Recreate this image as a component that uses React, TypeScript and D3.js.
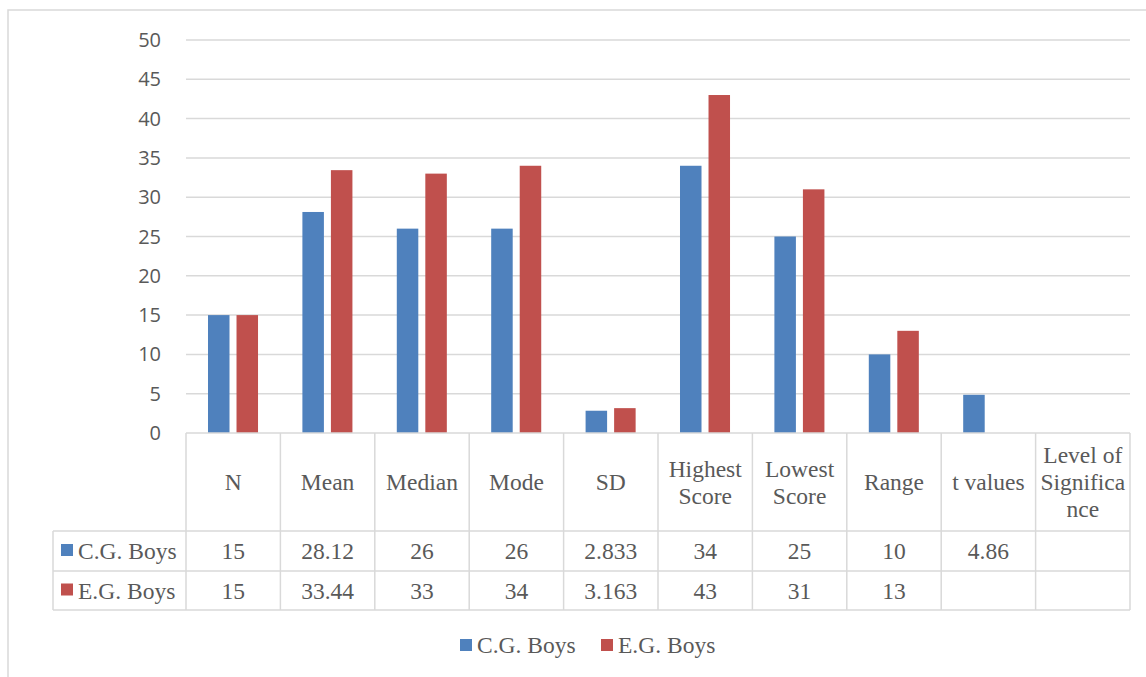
import React from "react";
import * as d3 from "d3";

// Statistics compared between control and experimental groups
const categories = [
  "N",
  "Mean",
  "Median",
  "Mode",
  "SD",
  "Highest Score",
  "Lowest Score",
  "Range",
  "t values",
  "Level of Significance",
];
// Header cell text as it wraps inside each column
const headerLines = [
  ["N"],
  ["Mean"],
  ["Median"],
  ["Mode"],
  ["SD"],
  ["Highest", "Score"],
  ["Lowest", "Score"],
  ["Range"],
  ["t values"],
  ["Level of", "Significa", "nce"],
];
const seriesNames = ["C.G. Boys", "E.G. Boys"];
const cgBoys: (number | null)[] = [15, 28.12, 26, 26, 2.833, 34, 25, 10, 4.86, null];
const egBoys: (number | null)[] = [15, 33.44, 33, 34, 3.163, 43, 31, 13, null, null];
const yTicks = [0, 5, 10, 15, 20, 25, 30, 35, 40, 45, 50];
const colors = ["#4f81bd", "#c0504d"];

const W = 1146;
const H = 677;
const plotLeft = 186;
const plotRight = 1130;
const plotTop = 40;
const plotBottom = 433;
const headerBottom = 531;
const row1Bottom = 571;
const row2Bottom = 610;
const tableLeft = 53;

const grid = "#d9d9d9";
const textColor = "#595959";
const serif = "'Liberation Serif', 'Times New Roman', serif";
const sans = "'Open Sans', 'DejaVu Sans', sans-serif";
const tableFont = 23.5;

export default function App() {
  const series = [cgBoys, egBoys];
  const x0 = d3.scaleBand<string>().domain(categories).range([plotLeft, plotRight]).padding(0);
  const step = x0.bandwidth();
  const x1 = d3
    .scaleBand<string>()
    .domain(seriesNames)
    .range([step * 0.233, step * 0.763])
    .paddingInner(0.246);
  const y = d3.scaleLinear().domain([0, 50]).range([plotBottom, plotTop]);

  const rowTops = [headerBottom, row1Bottom];
  const rowBottoms = [row1Bottom, row2Bottom];

  return (
    <svg
      width={W}
      height={H}
      style={{ position: "absolute", left: 0, top: 0, background: "#fff" }}
    >
      {/* chart area frame */}
      <rect x={8} y={10} width={1200} height={700} fill="#fff" stroke={grid} strokeWidth={1.5} />

      {/* gridlines and value axis labels */}
      {yTicks.map((t) => (
        <g key={t}>
          {t > 0 && (
            <line x1={plotLeft} x2={plotRight} y1={y(t)} y2={y(t)} stroke={grid} strokeWidth={1.5} />
          )}
          <text
            x={161}
            y={y(t)}
            dy="0.35em"
            textAnchor="end"
            fontFamily={sans}
            fontSize={20}
            fill={textColor}
          >
            {t}
          </text>
        </g>
      ))}

      {/* bars */}
      {series.map((vals, si) =>
        vals.map((v, ci) =>
          v == null ? null : (
            <rect
              key={`${si}-${ci}`}
              x={(x0(categories[ci]) as number) + (x1(seriesNames[si]) as number)}
              y={y(v)}
              width={x1.bandwidth()}
              height={plotBottom - y(v)}
              fill={colors[si]}
            />
          )
        )
      )}

      {/* data table grid */}
      <g stroke={grid} strokeWidth={1.5} fill="none">
        <line x1={plotLeft} x2={plotRight} y1={plotBottom} y2={plotBottom} />
        <line x1={tableLeft} x2={plotRight} y1={headerBottom} y2={headerBottom} />
        <line x1={tableLeft} x2={plotRight} y1={row1Bottom} y2={row1Bottom} />
        <line x1={tableLeft} x2={plotRight} y1={row2Bottom} y2={row2Bottom} />
        <line x1={tableLeft} x2={tableLeft} y1={headerBottom} y2={row2Bottom} />
        {categories.map((c) => (
          <line
            key={c}
            x1={x0(c) as number}
            x2={x0(c) as number}
            y1={plotBottom}
            y2={row2Bottom}
          />
        ))}
        <line x1={plotRight} x2={plotRight} y1={plotBottom} y2={row2Bottom} />
      </g>

      {/* header row */}
      {categories.map((c, ci) => {
        const lines = headerLines[ci];
        const cx = (x0(c) as number) + step / 2;
        const cy = (plotBottom + headerBottom) / 2;
        const lh = 27;
        return (
          <text
            key={c}
            textAnchor="middle"
            fontFamily={serif}
            fontSize={tableFont}
            fill={textColor}
          >
            {lines.map((ln, li) => (
              <tspan key={li} x={cx} y={cy + (li - (lines.length - 1) / 2) * lh} dy="0.35em">
                {ln}
              </tspan>
            ))}
          </text>
        );
      })}

      {/* series rows */}
      {series.map((vals, si) => {
        const cy = (rowTops[si] + rowBottoms[si]) / 2;
        return (
          <g key={si} fontFamily={serif} fontSize={tableFont} fill={textColor}>
            <rect x={61} y={cy - 7} width={12} height={12} fill={colors[si]} />
            <text x={78} y={cy} dy="0.35em">
              {seriesNames[si]}
            </text>
            {vals.map((v, ci) =>
              v == null ? null : (
                <text
                  key={ci}
                  x={(x0(categories[ci]) as number) + step / 2}
                  y={cy}
                  dy="0.35em"
                  textAnchor="middle"
                >
                  {String(v)}
                </text>
              )
            )}
          </g>
        );
      })}

      {/* legend */}
      <g fontFamily={serif} fontSize={tableFont} fill={textColor}>
        {seriesNames.map((name, si) => {
          const lx = [460, 601][si];
          return (
            <g key={name}>
              <rect x={lx} y={639} width={12} height={12} fill={colors[si]} />
              <text x={lx + 17} y={645} dy="0.35em">
                {name}
              </text>
            </g>
          );
        })}
      </g>
    </svg>
  );
}
